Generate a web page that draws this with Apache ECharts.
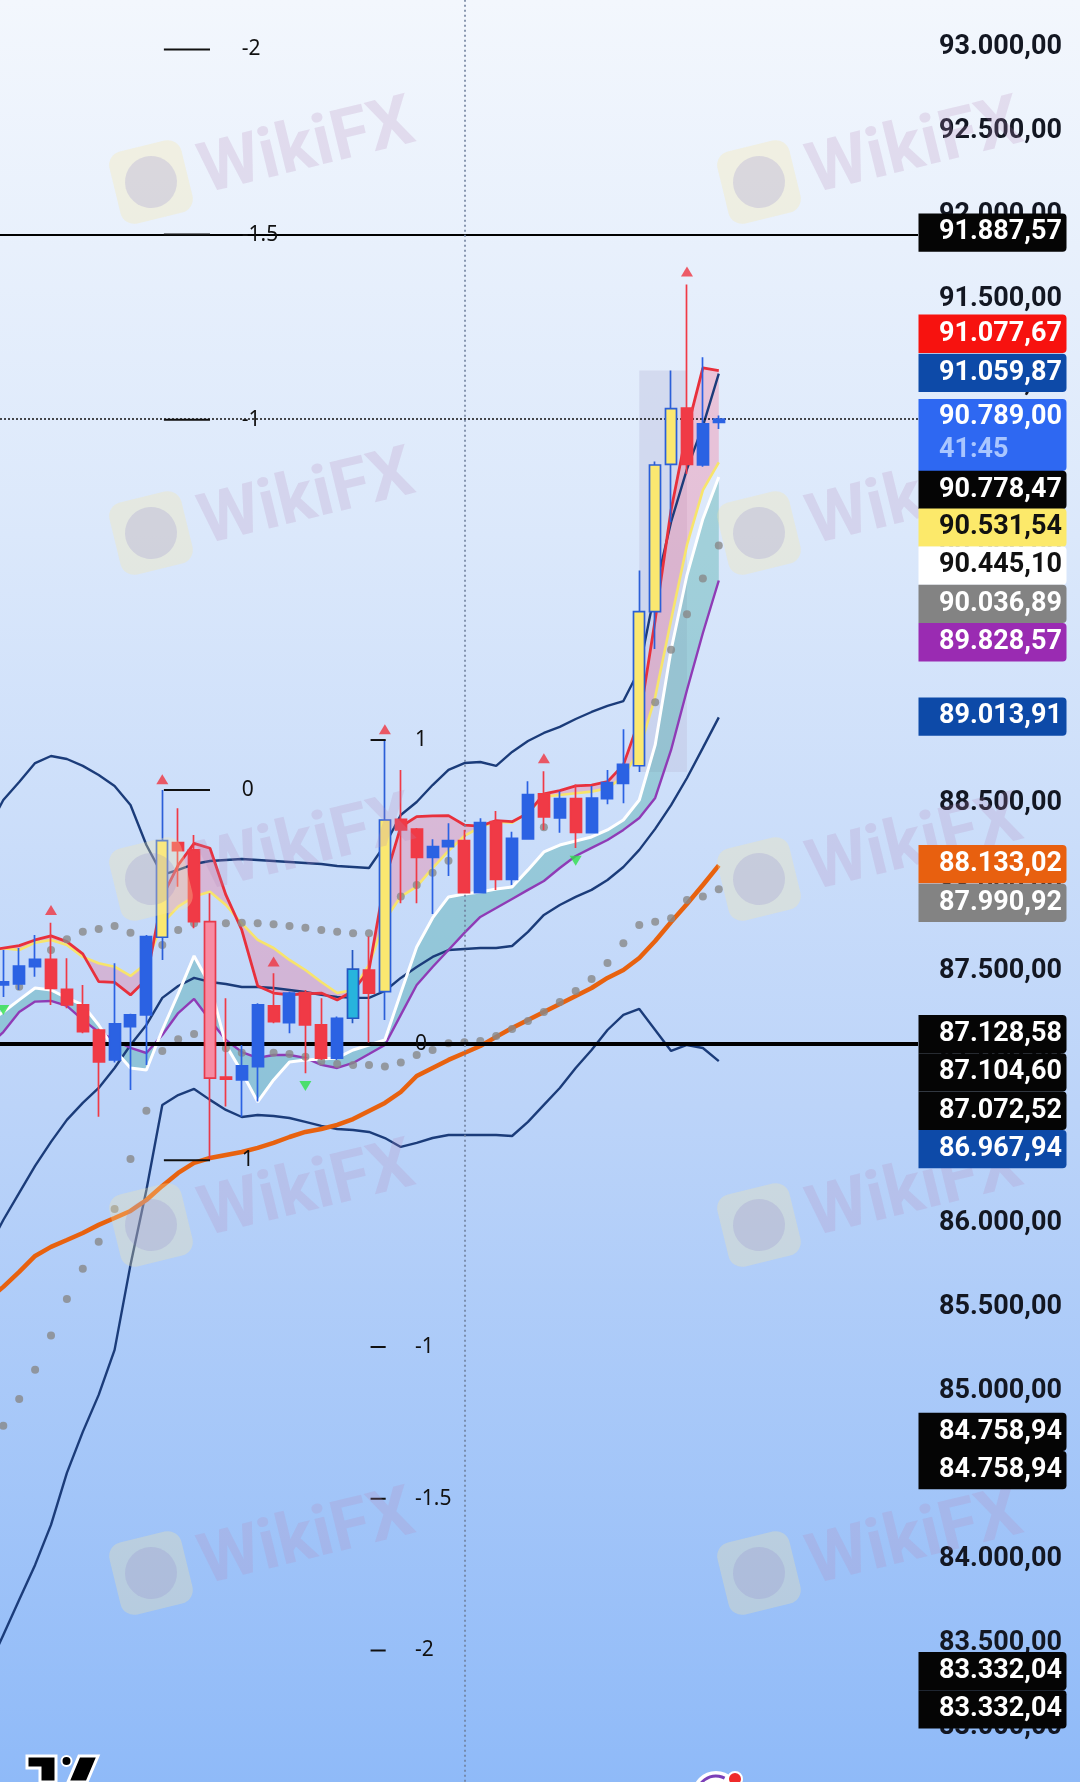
<!DOCTYPE html>
<html><head><meta charset="utf-8">
<script src="https://cdn.jsdelivr.net/npm/echarts@6/dist/echarts.min.js"></script>
<style>html,body{margin:0;padding:0;background:#c8dcfa}#c{width:1080px;height:1782px}</style>
</head><body><div id="c"></div>
<script>
// ---------- candles (index 0..45) ----------
const candleOpen  = [87421,87427,87530,87574,87395,87302,87153,86975,87173,87243,87705,88268,88225,87798,86873,86856,86935,87296,87197,87375,87183,86985,87223,87510,87381,88407,88349,88181,88244,88280,87970,88393,88050,88291,88558,88415,88530,88327,88530,88621,88726,89643,90520,90855,90516,90770];
const candleClose = [87439,87534,87574,87401,87302,87143,86963,87189,87243,87709,88280,88220,87798,86866,86861,86939,87302,87203,87372,87183,86985,87223,87515,87372,88403,88344,88181,88244,88280,87970,88387,88050,88294,88554,88421,88530,88329,88534,88625,88734,89643,90516,90852,90520,90761,90789];
const candleLow   = [87350,87391,87470,87302,87282,87134,86637,86960,86796,86945,87570,88006,87759,86380,86697,86637,86727,87193,87134,86896,86975,86975,87193,87078,87213,87907,87907,87844,88070,87967,87970,87987,88016,88287,88344,88327,88236,88323,88497,88503,88688,89421,90175,90463,90505,90730];
const candleHigh  = [87629,87641,87719,87792,87580,87421,87160,87550,87250,87719,88582,88473,88314,87967,87342,87064,87312,87491,87381,87391,87342,87233,87629,87709,88879,88701,88355,88288,88383,88344,88413,88457,88333,88633,88693,88574,88614,88606,88701,88943,89888,90537,91078,91591,91158,90810];
const candleKind  = ['b','b','b','r','r','r','r','b','b','b','y','r','r','p','r','b','b','r','b','r','r','b','c','r','y','r','r','b','b','r','b','r','b','b','r','b','r','b','b','b','y','y','y','r','b','b'];

// ---------- indicator lines (index -1..45) ----------
const bbUpper = [88344,88522,88629,88742,88784,88766,88725,88671,88606,88492,88254,88076,88106,88141,88159,88165,88171,88165,88159,88153,88147,88141,88129,88123,88117,88254,88433,88510,88611,88701,88742,88748,88725,88808,88873,88921,88957,89004,89046,89082,89111,89296,89772,90177,90492,90748,91059.87];
const bbBasis = [85844,86022,86183,86344,86487,86618,86719,86808,86927,87064,87183,87344,87415,87463,87439,87427,87409,87409,87403,87391,87379,87362,87350,87344,87344,87385,87463,87528,87588,87629,87635,87641,87641,87653,87737,87838,87897,87945,87987,88046,88123,88225,88350,88492,88653,88832,89013.91];
const bbLower = [83344,83552,83761,83969,84207,84517,84761,84981,85249,85755,86201,86707,86766,86802,86737,86677,86635,86647,86641,86629,86606,86582,86564,86558,86546,86510,86457,86481,86510,86528,86528,86528,86528,86522,86606,86707,86808,86927,87034,87153,87243,87278,87153,87028,87064,87046,86967.94];
const maOrange = [85546,85624,85713,85808,85862,85903,85945,85993,86034,86076,86141,86225,86302,86362,86391,86409,86427,86451,86481,86516,86546,86564,86588,86623,86671,86719,86784,86879,86927,86975,87016,87058,87112,87165,87213,87260,87308,87356,87403,87463,87510,87582,87683,87796,87903,88016,88133.02];
const lineRed    = [87625,87640,87655,87689,87713,87679,87606,87441,87437,87362,87455,87945,88135,88264,88235,87957,87748,87415,87373,87362,87368,87373,87332,87385,87510,88046,88363,88423,88427,88429,88373,88367,88399,88393,88443,88558,88578,88606,88611,88631,88731,88998,89594,90248,90724,91094,91077.67];
const lineYellow = [87620,87640,87629,87673,87689,87659,87588,87550,87530,87475,87550,87788,87887,87947,87976,87897,87788,87689,87641,87570,87510,87439,87373,87391,87540,87808,87947,88006,88117,88219,88308,88361,88393,88387,88447,88542,88552,88562,88572,88592,88661,88820,89135,89594,90040,90367,90531.54];
const lineWhite  = [87200,87260,87332,87403,87391,87344,87302,87183,87034,86927,86915,87153,87368,87594,87421,87064,86903,86725,86856,86963,86975,86981,86987,87034,87064,87094,87373,87647,87820,87945,87963,87975,87992,88004,88106,88213,88254,88278,88302,88344,88403,88522,88850,89415,89861,90195,90445.10];
const linePurple = [87050,87141,87260,87322,87326,87296,87213,87141,87094,87046,87016,87123,87254,87338,87213,87094,87022,86987,87004,87004,86987,86945,86927,86957,87010,87064,87243,87421,87528,87629,87731,87826,87879,87933,87987,88040,88117,88189,88237,88284,88344,88415,88534,88820,89177,89516,89828.57];

// ---------- dotted indicators (index 0..45) ----------
const sarFast = [null,87411,null,87629,87693,87738,87754,87772,87732,null,87659,87748,87788,null,87788,87792,87788,87782,87772,87762,87748,87738,87729,87729,null,87947,88016,88089,88161,null,null,null,null,null,88360,null,null,null,null,null,null,89104,89417,89627,89840,90036.89];
const sarSlow = [84797,84957,85130,85334,85552,85732,85893,86088,86385,86673,87028,87098,87129,null,87044,87018,null,87018,87010,86994,86965,86951,86945,86945,86935,86959,87004,87034,87074,87080,87088,87118,87159,87207,87260,87320,87385,87457,87552,87669,87778,87798,87818,87927,87947,87990.92];

// ---------- signals ----------
const sigUpIdx = [3,10,17,24,34,43];
const sigUpVal = [87867,88645,87560,88943,88770,91668];
const sigDnIdx = [0,19,36];
const sigDnVal = [87272,86820,88161];

// ---------- fib drawings ----------
const fibLevels = [-2,-1.5,-1,0,1];
const fibA = {zero:88582, one:86378, from:10.1, to:13.0, label:15.0};
const fibB = {zero:87072.52, one:88879, from:23.1, to:24.05, label:25.9};
const highlightRange = [40,43];
const verticalMarkIdx = 29;

// ---------- price tags ----------
const tagValues = [91887.57,91077.67,91059.87,90789.00,90778.47,90531.54,90445.10,90036.89,89828.57,89013.91,88133.02,87990.92,87128.58,87104.60,87072.52,86967.94,84758.94,84758.94,83332.04,83332.04];
const tagBg = ['#050505','#f7120f','#0d4aa8','#2e68f2','#050505','#fce96a','#ffffff','#838383','#9a2bb2','#0d4aa8','#e8600f','#838383','#050505','#050505','#050505','#0d4aa8','#050505','#050505','#050505','#050505'];
const tagFg = ['#fff','#fff','#fff','#fff','#fff','#111','#111','#fff','#fff','#fff','#fff','#fff','#fff','#fff','#fff','#fff','#fff','#fff','#fff','#fff'];
const tagTop = [213.5,314.6,353.8,399,470.7,508.5,546.5,584.8,623.1,697.5,845,883.8,1015,1053.3,1091.6,1129.9,1412.7,1451,1652,1690.3];
const countdownText = '41:45';

function fmt(v){
  const s = v.toFixed(2).split('.');
  return s[0].replace(/\B(?=(\d{3})+(?!\d))/g,'.') + ',' + s[1];
}
const withIdx = (arr, off) => arr.map((v,i)=>[i+off, v]);
const dots = arr => arr.map((v,i)=>v==null?null:[i,v]).filter(d=>d);

const kindStyle = {
  b:{fill:'#2b62e3', border:'#2b62e3'},
  r:{fill:'#f03a46', border:'#f03a46'},
  y:{fill:'#fbe870', border:'#2b5fd8'},
  p:{fill:'#f78ba2', border:'#e8394a'},
  c:{fill:'#27b4dd', border:'#2457c2'}
};
const candleData = candleOpen.map((o,i)=>{
  const st = kindStyle[candleKind[i]];
  return {value:[i,o,candleClose[i],candleLow[i],candleHigh[i]],
    itemStyle:{color:st.fill,color0:st.fill,borderColor:st.border,borderColor0:st.border,borderWidth:1.7}};
});

function lineS(arr, color, width, z){
  return {type:'line', data:withIdx(arr,-1), showSymbol:false, symbol:'none', clip:true, silent:true, z:z,
    lineStyle:{color:color, width:width}};
}
function bandS(a, b, color){
  return {type:'custom', clip:true, silent:true, z:1, data:[[10,88000]],
    renderItem:(params, api)=>{
      const pts=[];
      a.forEach((v,i)=>pts.push(api.coord([i-1,v])));
      for(let i=b.length-1;i>=0;i--) pts.push(api.coord([i-1,b[i]]));
      return {type:'polygon', shape:{points:pts}, style:{fill:color}};
    }};
}
const fibVal = (f,lv)=> f.zero + lv*(f.one-f.zero);

const hlDataLow = Math.min(...candleLow.slice(highlightRange[0], highlightRange[1]));
const hlDataHigh = Math.max(...candleHigh.slice(highlightRange[0], highlightRange[1]));
const lastClose = candleClose[candleClose.length-1];

const series = [
  {type:'line', data:[[highlightRange[0],hlDataLow]], showSymbol:false, symbol:'none', z:0, silent:true,
    lineStyle:{opacity:0},
    markArea:{silent:true, itemStyle:{color:'rgba(190,194,222,0.42)'},
      data:[[{coord:[highlightRange[0],hlDataLow]},{coord:[highlightRange[1],hlDataHigh]}]]}},
  bandS(lineRed, lineYellow, 'rgba(250,90,125,0.28)'),
  bandS(lineWhite, linePurple, 'rgba(45,160,150,0.32)'),
  lineS(bbUpper,'#1b3c7a',2.4,2),
  lineS(bbBasis,'#1b3c7a',2.4,2),
  lineS(bbLower,'#1b3c7a',2.4,2),
  lineS(maOrange,'#e8620f',4.5,2),
  lineS(linePurple,'#8f3bb6',2.4,3),
  lineS(lineWhite,'#ffffff',3,3),
  lineS(lineYellow,'#f7e46c',2.6,3),
  lineS(lineRed,'#e8303c',2.8,3),
  {type:'scatter', data:dots(sarFast), symbol:'circle', symbolSize:8, z:4, silent:true, itemStyle:{color:'#888888'}},
  {type:'scatter', data:dots(sarSlow), symbol:'circle', symbolSize:8, z:4, silent:true, itemStyle:{color:'#888888'}},
  {type:'candlestick', data:candleData, encode:{x:0,y:[1,2,3,4]}, barWidth:11.5, z:5, silent:true, clip:true},
  {type:'scatter', data:sigUpIdx.map((x,i)=>[x,sigUpVal[i]]), symbol:'triangle', symbolSize:[12,10], z:6, silent:true, itemStyle:{color:'#ef3440'}},
  {type:'scatter', data:sigDnIdx.map((x,i)=>[x,sigDnVal[i]]), symbol:'triangle', symbolRotate:180, symbolSize:[12,10], z:6, silent:true, itemStyle:{color:'#2ee04a'}},
  {type:'line', data:[[0,fibB.zero]], showSymbol:false, symbol:'none', z:7, silent:true, lineStyle:{opacity:0},
    markLine:{silent:true, symbol:['none','none'], label:{show:false}, animation:false,
      data:[
        {yAxis:fibVal(fibA,-1.5), lineStyle:{color:'#000',width:2,type:'solid'}},
        {yAxis:fibVal(fibB,0), lineStyle:{color:'#000',width:4,type:'solid'}},
        {yAxis:lastClose, lineStyle:{color:'#111',width:1.6,type:[2,2]}},
        {xAxis:verticalMarkIdx, lineStyle:{color:'#6f7f9c',width:1.6,type:[2,3]}}
      ]}},
  {type:'custom', clip:false, silent:true, z:8, data:[[10,88000]],
    renderItem:(params, api)=>{
      const ch=[];
      [fibA,fibB].forEach(f=>fibLevels.forEach(lv=>{
        const v=fibVal(f,lv);
        const p0=api.coord([f.from,v]), p1=api.coord([f.to,v]), pl=api.coord([f.label,v]);
        ch.push({type:'line', shape:{x1:p0[0],y1:p0[1],x2:p1[0],y2:p1[1]}, style:{stroke:'#111',lineWidth:2}});
        ch.push({type:'text', x:pl[0], y:pl[1], style:{text:String(lv), fill:'#111', font:'21px "Noto Sans"', verticalAlign:'middle', align:'left'}});
      }));
      return {type:'group', children:ch};
    }}
];

// graphics: watermarks, tags, logos
const graphics = [];
const wmRows = [182,533,879,1225,1573];
const wmCols = [151,759];
wmRows.forEach(y=>wmCols.forEach(x=>{
  graphics.push({type:'group', x:x, y:y, rotation:0.24, silent:true, z:50, children:[
    {type:'rect', z:50, shape:{x:-37,y:-37,width:74,height:74,r:14}, style:{fill:'rgba(250,232,165,0.30)'}},
    {type:'circle', z:51, shape:{cx:0,cy:0,r:26}, style:{fill:'rgba(140,130,205,0.22)'}},
    {type:'text', z:51, x:50, y:6, style:{text:'WikiFX', font:'bold 70px Roboto', fill:'rgba(180,135,185,0.22)', verticalAlign:'middle'}}
  ]});
}));
tagValues.forEach((v,i)=>{
  const h = i===3 ? 72 : 38.3;
  graphics.push({type:'rect', z:100, silent:true, shape:{x:918.5,y:tagTop[i],width:148,height:h,r:[0,4,4,0]}, style:{fill:tagBg[i]}});
  graphics.push({type:'text', z:101, silent:true, x:939, y:tagTop[i]+(i===3?18.5:h/2), style:{text:fmt(v), fill:tagFg[i], font:'bold 27px Roboto', verticalAlign:'middle'}});
  if(i===3) graphics.push({type:'text', z:101, silent:true, x:939, y:tagTop[i]+51, style:{text:countdownText, fill:'#a9c6ff', font:'bold 27px Roboto', verticalAlign:'middle'}});
});
// TradingView logo
graphics.push({type:'polygon', z:110, silent:true, shape:{points:[[27,1756],[56,1756],[56,1782],[40,1782],[40,1768],[27,1768]]}, style:{fill:'#000',stroke:'#fff',lineWidth:3}});
graphics.push({type:'circle', z:110, silent:true, shape:{cx:66.5,cy:1761,r:5}, style:{fill:'#000',stroke:'#fff',lineWidth:2}});
graphics.push({type:'polygon', z:110, silent:true, shape:{points:[[79,1756],[98,1756],[87,1782],[68,1782]]}, style:{fill:'#000',stroke:'#fff',lineWidth:3}});
// bottom icon
graphics.push({type:'circle', z:110, silent:true, shape:{cx:716,cy:1795,r:24}, style:{fill:'#fff'}});
graphics.push({type:'arc', z:111, silent:true, shape:{cx:716,cy:1795,r:19,startAngle:Math.PI*1.05,endAngle:Math.PI*1.65}, style:{stroke:'#7b3fb8',lineWidth:3,fill:null}});
graphics.push({type:'circle', z:112, silent:true, shape:{cx:735,cy:1779,r:7}, style:{fill:'#ef2b2b',stroke:'#fff',lineWidth:2}});

const chart = echarts.init(document.getElementById('c'), null, {renderer:'canvas'});
chart.setOption({
  animation:false,
  backgroundColor:new echarts.graphic.LinearGradient(0,0,0,1,[
    {offset:0,color:'#f3f7fd'},{offset:0.3,color:'#dbe8fb'},{offset:0.62,color:'#bcd4f9'},{offset:1,color:'#8fbaf8'}]),
  textStyle:{fontFamily:'Roboto'},
  grid:{left:0, top:-36.3, width:918, height:1848, containLabel:false, outerBoundsMode:'none'},
  xAxis:{type:'value', min:-0.2075, max:57.53, show:false},
  yAxis:{type:'value', position:'right', min:82500, max:93500, interval:500,
    axisLine:{show:false}, axisTick:{show:false}, splitLine:{show:false},
    axisLabel:{margin:21, align:'left', color:'#131722', fontSize:27, fontWeight:'bold', fontFamily:'Roboto', formatter:v=>fmt(v)}},
  series:series,
  graphic:{elements:graphics}
});
</script></body></html>
